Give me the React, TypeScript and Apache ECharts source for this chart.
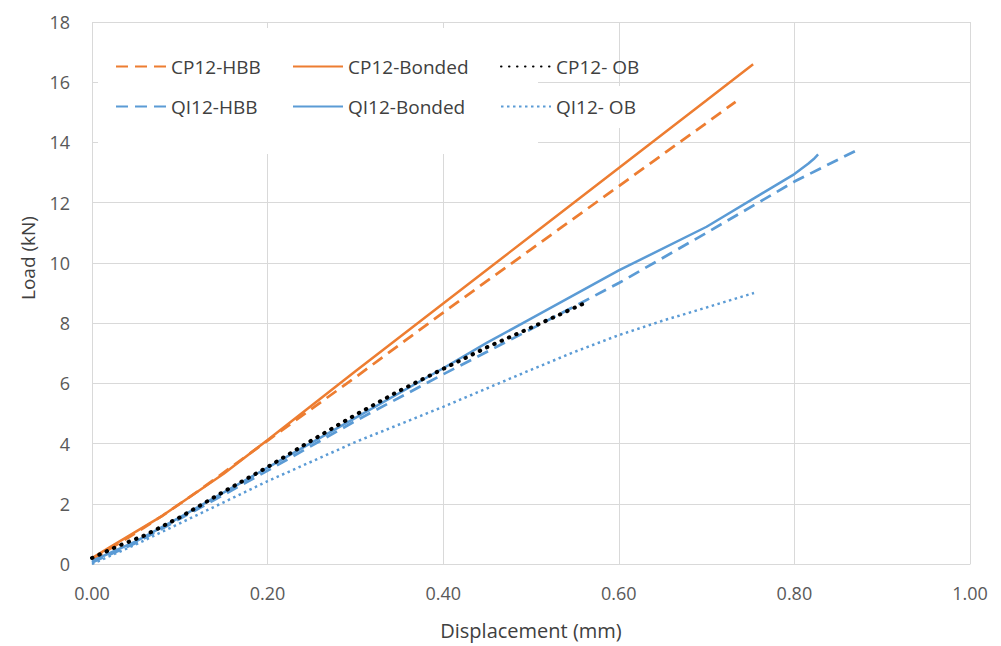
import React, { useEffect, useRef } from "react";
import * as echarts from "echarts";

const xTicks = [0, 0.2, 0.4, 0.6, 0.8, 1.0];
const yTicks = [0, 2, 4, 6, 8, 10, 12, 14, 16, 18];

const cp12HBB: number[][] = [
  [0, 0.15], [0.04, 0.85], [0.08, 1.6], [0.12, 2.4], [0.16, 3.25], [0.2, 4.1],
  [0.3, 6.2], [0.4, 8.35], [0.5, 10.45], [0.6, 12.55], [0.7, 14.65], [0.733, 15.35],
];
const cp12Bonded: number[][] = [
  [0, 0.2], [0.02, 0.55], [0.04, 0.9], [0.08, 1.6], [0.115, 2.3], [0.15, 3.0],
  [0.2, 4.12], [0.3, 6.4], [0.4, 8.65], [0.5, 10.9], [0.6, 13.15], [0.7, 15.4], [0.753, 16.6],
];
const cp12OB: number[][] = [
  [0, 0.2], [0.03, 0.6], [0.06, 0.95], [0.1, 1.55], [0.15, 2.4], [0.2, 3.22],
  [0.25, 4.1], [0.3, 4.95], [0.35, 5.75], [0.4, 6.48], [0.45, 7.2], [0.5, 7.85], [0.56, 8.65],
];
const qi12HBB: number[][] = [
  [0, 0.05], [0.05, 0.7], [0.1, 1.5], [0.2, 3.1], [0.3, 4.75], [0.4, 6.3],
  [0.5, 7.8], [0.6, 9.33], [0.7, 11.0], [0.8, 12.7], [0.875, 13.8],
];
const qi12Bonded: number[][] = [
  [0, 0.1], [0.05, 0.75], [0.1, 1.55], [0.2, 3.2], [0.3, 4.85], [0.4, 6.5],
  [0.45, 7.35], [0.5, 8.15], [0.6, 9.75], [0.7, 11.2], [0.76, 12.25], [0.8, 12.95],
  [0.816, 13.3], [0.822, 13.45], [0.827, 13.6],
];
const qi12OB: number[][] = [
  [0, 0], [0.05, 0.65], [0.1, 1.35], [0.15, 2.05], [0.2, 2.75], [0.3, 4.05],
  [0.4, 5.22], [0.5, 6.45], [0.55, 7.05], [0.6, 7.6], [0.65, 8.08], [0.7, 8.52], [0.754, 9.0],
];

const ORANGE = "#ED7D31";
const BLUE = "#5B9BD5";
const FONT = "Open Sans";

export default function App() {
  const ref = useRef<HTMLDivElement>(null);
  useEffect(() => {
    if (!ref.current) return;
    const chart = echarts.init(ref.current, undefined, { renderer: "svg" });
    const mk = (name: string, data: number[][], color: string, width: number, type: any, cap: any = "butt") => ({
      name,
      type: "line",
      data,
      symbol: "none",
      smooth: false,
      lineStyle: { color, width, type, cap },
      itemStyle: { color },
      z: 2,
    });
    const legendBase = {
      top: 52,
      orient: "vertical",
      itemWidth: 50,
      itemHeight: 14,
      itemGap: 21,
      itemStyle: { opacity: 0, color: "rgba(0,0,0,0)", borderWidth: 0 },
      textStyle: { fontFamily: FONT, fontSize: 19, color: "#404040" },
      z: 10,
    };
    chart.setOption({
      animation: false,
      backgroundColor: "#ffffff",
      grid: { left: 92, right: 31, top: 22, bottom: 82 },
      xAxis: {
        type: "value",
        min: xTicks[0],
        max: xTicks[xTicks.length - 1],
        interval: 0.2,
        name: "Displacement (mm)",
        nameLocation: "middle",
        nameGap: 56,
        nameTextStyle: { fontFamily: FONT, fontSize: 20, color: "#404040" },
        axisLine: { show: true, lineStyle: { color: "#D9D9D9", width: 1 } },
        axisTick: { show: false },
        axisLabel: {
          margin: 20,
          fontFamily: FONT,
          fontSize: 18,
          color: "#595959",
          formatter: (v: number) => v.toFixed(2),
        },
        splitLine: { show: true, lineStyle: { color: "#D9D9D9", width: 1 } },
      },
      yAxis: {
        type: "value",
        min: yTicks[0],
        max: yTicks[yTicks.length - 1],
        interval: 2,
        axisLine: { show: false },
        axisTick: { show: false },
        axisLabel: { margin: 22, fontFamily: FONT, fontSize: 18, color: "#595959" },
        splitLine: { show: true, lineStyle: { color: "#D9D9D9", width: 1 } },
      },
      legend: [
        { ...legendBase, left: 110, data: ["CP12-HBB", "QI12-HBB"] },
        { ...legendBase, left: 287, data: ["CP12-Bonded", "QI12-Bonded"] },
        { ...legendBase, left: 495, data: ["CP12- OB", "QI12- OB"] },
      ],
      graphic: [
        { type: "rect", z: 1, shape: { x: 98, y: 28, width: 440, height: 126 }, style: { fill: "#ffffff" } },
        { type: "rect", z: 1, shape: { x: 538, y: 86, width: 148, height: 42 }, style: { fill: "#ffffff" } },
        {
          type: "text",
          z: 5,
          x: 28,
          y: 258,
          rotation: Math.PI / 2,
          style: {
            text: "Load (kN)",
            fontFamily: FONT,
            fontSize: 19,
            fill: "#404040",
            align: "center",
            verticalAlign: "middle",
          },
        },
      ],
      series: [
        mk("CP12-HBB", cp12HBB, ORANGE, 2.75, [12, 7]),
        mk("QI12-HBB", qi12HBB, BLUE, 2.75, [12, 7]),
        mk("CP12-Bonded", cp12Bonded, ORANGE, 2.5, "solid"),
        mk("QI12-Bonded", qi12Bonded, BLUE, 2.5, "solid"),
        mk("CP12- OB", cp12OB, "#000000", 4, [0.5, 7.5], "round"),
        mk("QI12- OB", qi12OB, BLUE, 2.5, [2.5, 3.5]),
      ],
    });
    return () => chart.dispose();
  }, []);
  return (
    <div
      ref={ref}
      style={{ position: "absolute", left: 0, top: 0, width: 1001, height: 646 }}
    />
  );
}
